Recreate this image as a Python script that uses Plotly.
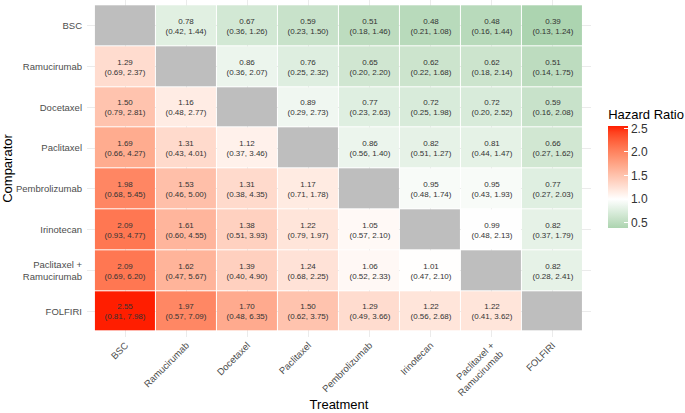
import plotly.graph_objects as go

treatments = ["BSC", "Ramucirumab", "Docetaxel", "Paclitaxel", "Pembrolizumab",
              "Irinotecan", "Paclitaxel +<br>Ramucirumab", "FOLFIRI"]
comparators = list(treatments)

# hazard ratio [comparator row][treatment column]; None on the diagonal
hr = [
    [None, 0.78, 0.67, 0.59, 0.51, 0.48, 0.48, 0.39],
    [1.29, None, 0.86, 0.76, 0.65, 0.62, 0.62, 0.51],
    [1.50, 1.16, None, 0.89, 0.77, 0.72, 0.72, 0.59],
    [1.69, 1.31, 1.12, None, 0.86, 0.82, 0.81, 0.66],
    [1.98, 1.53, 1.31, 1.17, None, 0.95, 0.95, 0.77],
    [2.09, 1.61, 1.38, 1.22, 1.05, None, 0.99, 0.82],
    [2.09, 1.62, 1.39, 1.24, 1.06, 1.01, None, 0.82],
    [2.55, 1.97, 1.70, 1.50, 1.29, 1.22, 1.22, None],
]
ci_low = [
    [None, 0.42, 0.36, 0.23, 0.18, 0.21, 0.16, 0.13],
    [0.69, None, 0.36, 0.25, 0.20, 0.22, 0.18, 0.14],
    [0.79, 0.48, None, 0.29, 0.23, 0.25, 0.20, 0.16],
    [0.66, 0.43, 0.37, None, 0.56, 0.51, 0.44, 0.27],
    [0.68, 0.46, 0.38, 0.71, None, 0.48, 0.43, 0.27],
    [0.93, 0.60, 0.51, 0.79, 0.57, None, 0.48, 0.37],
    [0.69, 0.47, 0.40, 0.68, 0.52, 0.47, None, 0.28],
    [0.81, 0.57, 0.48, 0.62, 0.49, 0.56, 0.41, None],
]
ci_high = [
    [None, 1.44, 1.26, 1.50, 1.46, 1.08, 1.44, 1.24],
    [2.37, None, 2.07, 2.32, 2.20, 1.68, 2.14, 1.75],
    [2.81, 2.77, None, 2.73, 2.63, 1.98, 2.52, 2.08],
    [4.27, 4.01, 3.46, None, 1.40, 1.27, 1.47, 1.62],
    [5.45, 5.00, 4.35, 1.78, None, 1.74, 1.93, 2.03],
    [4.77, 4.55, 3.93, 1.97, 2.10, None, 2.13, 1.79],
    [6.20, 5.67, 4.90, 2.25, 2.33, 2.10, None, 2.41],
    [7.98, 7.09, 6.35, 3.75, 3.66, 2.68, 3.62, None],
]
cbar_ticks = [0.5, 1.0, 1.5, 2.0, 2.5]

# ---------- colour scale (diverging, Lab interpolation, midpoint 1) ----------
LOW, MID, HIGH = "#ACD4B0", "#FFFFFF", "#FF1E00"


def _hex2rgb(h):
    h = h.lstrip("#")
    return [int(h[i:i + 2], 16) / 255 for i in (0, 2, 4)]


def _lin(c):
    return c / 12.92 if c <= 0.04045 else ((c + 0.055) / 1.055) ** 2.4


def _delin(c):
    c = max(0.0, min(1.0, c))
    return 12.92 * c if c <= 0.0031308 else 1.055 * c ** (1 / 2.4) - 0.055


def to_lab(h):
    r, g, b = [_lin(c) for c in _hex2rgb(h)]
    X = (0.4124 * r + 0.3576 * g + 0.1805 * b) / 0.95047
    Y = (0.2126 * r + 0.7152 * g + 0.0722 * b)
    Z = (0.0193 * r + 0.1192 * g + 0.9505 * b) / 1.08883
    f = lambda t: t ** (1 / 3) if t > 0.008856 else 7.787 * t + 16 / 116
    fx, fy, fz = f(X), f(Y), f(Z)
    return (116 * fy - 16, 500 * (fx - fy), 200 * (fy - fz))


def from_lab(L, a, b):
    fy = (L + 16) / 116
    fx = fy + a / 500
    fz = fy - b / 200
    finv = lambda t: t ** 3 if t ** 3 > 0.008856 else (t - 16 / 116) / 7.787
    X, Y, Z = finv(fx) * 0.95047, finv(fy), finv(fz) * 1.08883
    r = 3.2406 * X - 1.5372 * Y - 0.4986 * Z
    g = -0.9689 * X + 1.8758 * Y + 0.0415 * Z
    bb = 0.0557 * X - 0.2040 * Y + 1.0570 * Z
    return "rgb(%d,%d,%d)" % tuple(round(_delin(c) * 255) for c in (r, g, bb))


def mix(c1, c2, t):
    l1, l2 = to_lab(c1), to_lab(c2)
    return from_lab(*[a + (b - a) * t for a, b in zip(l1, l2)])


vals = [v for row in hr for v in row if v is not None]
zmin, zmax = min(vals), max(vals)
pmid = (1.0 - zmin) / (zmax - zmin)
scale = []
N = 12
for i in range(N):
    t = i / N
    scale.append([pmid * t, mix(LOW, MID, t)])
for i in range(N + 1):
    t = i / N
    scale.append([pmid + (1 - pmid) * t, mix(MID, HIGH, t)])

text = [["" if hr[i][j] is None else
         "%.2f<br>(%.2f, %.2f)" % (hr[i][j], ci_low[i][j], ci_high[i][j])
         for j in range(8)] for i in range(8)]
diag = [[1 if hr[i][j] is None else None for j in range(8)] for i in range(8)]

fig = go.Figure()
fig.add_trace(go.Heatmap(
    x=treatments, y=comparators, z=diag,
    colorscale=[[0, "#BEBEBE"], [1, "#BEBEBE"]], showscale=False,
    xgap=1, ygap=1, hoverinfo="skip"))
fig.add_trace(go.Heatmap(
    x=treatments, y=comparators, z=hr, zmin=zmin, zmax=zmax,
    colorscale=scale, xgap=1, ygap=1,
    text=text, texttemplate="%{text}",
    textfont=dict(size=8, color="#333333", family="Liberation Sans"),
    colorbar=dict(
        title=dict(text="Hazard Ratio", side="top",
                   font=dict(size=13, color="#000000", family="Liberation Sans")),
        x=1.034, xanchor="left", y=0.3234, yanchor="bottom",
        thickness=20, len=122, lenmode="pixels", ypad=0, xpad=0,
        outlinewidth=0, ticks="inside", tickcolor="white", ticklen=4,
        tickvals=cbar_ticks, ticktext=["%.1f" % v for v in cbar_ticks],
        tickfont=dict(size=12, color="#333333", family="Liberation Sans"),
    )))

fig.update_layout(
    width=685, height=413,
    margin=dict(l=87, r=94, t=0, b=76),
    paper_bgcolor="white", plot_bgcolor="white",
    font=dict(family="Liberation Sans"),
    xaxis=dict(
        type="category", categoryorder="array", categoryarray=treatments,
        range=[-0.63, 7.63], showgrid=True, gridcolor="#EBEBEB", gridwidth=1,
        zeroline=False, showline=False, ticks="", tickangle=-45,
        tickfont=dict(size=9.5, color="#4D4D4D"),
        title=dict(text="Treatment", font=dict(size=13, color="#000000"), standoff=2),
    ),
    yaxis=dict(
        type="category", categoryorder="array", categoryarray=comparators,
        range=[7.63, -0.63], showgrid=True, gridcolor="#EBEBEB", gridwidth=1,
        zeroline=False, showline=False, ticks="", ticklabelstandoff=4,
        tickfont=dict(size=9.5, color="#4D4D4D"),
        title=dict(text="Comparator", font=dict(size=13, color="#000000"), standoff=6),
    ),
)

fig.write_html("out.html")
